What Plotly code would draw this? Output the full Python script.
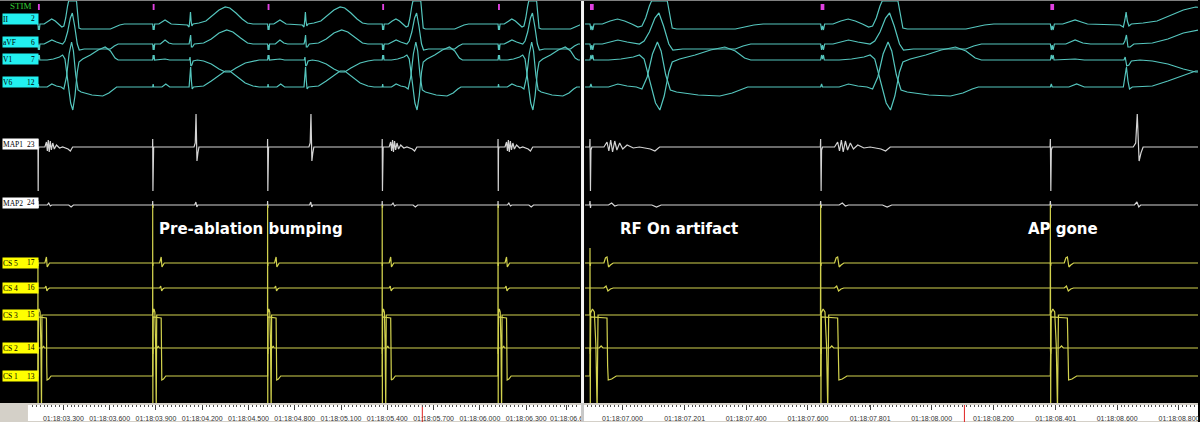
import plotly.graph_objects as go

# ---------------- data ----------------
# stimulus times, ms after 01:18:00.000
stim_left = [3135, 3879, 4624, 5367, 6118]
stim_right = [6895, 7641, 8384]
beat_left = ["wide", "narrow", "narrow", "wide", "wide"]
beat_right = ["wide", "wide", "narrow"]
cs_artifact_left = [55, 110, 110, 110, 110]
cs_artifact_right = [67, 110, 110]

channel_names = ["II", "aVF", "V1", "V6", "MAP1", "MAP2", "CS 5", "CS 4", "CS 3", "CS 2", "CS 1"]
channel_numbers = ["2", "6", "7", "12", "23", "24", "17", "16", "15", "14", "13"]

# waveform templates: (ms after stimulus, deflection)
II_stim = [(0, 0), (3, -6), (6, -2), (9, -6), (13, 0)]
II_wide = [(40, 0), (65, 3), (89, 5), (112, 3), (135, 0), (155, -3), (168, -2), (180, 6), (192, 18), (199, 23),
           (250, 23), (257, 12), (266, -4), (280, -5), (470, -5), (500, -3), (530, -1), (560, 0)]
II_narrow = [(40, 0), (60, 2), (80, 4), (100, 2), (120, 0), (225, -1), (236, -3), (241, 4), (245, 12), (249, 3),
             (254, -2), (262, 0), (300, 1), (345, 3), (390, 9), (430, 14), (470, 17), (500, 16), (540, 11),
             (580, 5), (615, 1), (650, 0)]

aVF_stim = [(0, 0), (3, -6), (6, -1), (9, -6), (13, 0)]
aVF_wide = [(40, 0), (65, 2), (90, 4), (120, 2), (160, 0), (175, 3), (192, 12), (210, 26), (223, 31), (238, 18),
            (255, 0), (268, -6), (300, -5), (470, -5), (495, -2), (520, 0)]
aVF_narrow = [(50, 0), (80, 4), (105, 1), (130, 0), (236, 0), (241, 3), (246, 9), (251, -3), (258, -3), (270, 0),
              (330, 1), (380, 5), (430, 11), (480, 14), (520, 12), (570, 6), (615, 1), (650, 0)]

V1_stim = [(0, 0), (3, 5), (6, 1), (9, 5), (12, 0)]
V1_wide = [(60, 0), (100, 1), (140, 3), (160, 5), (175, 1), (195, -22), (212, -43), (226, -50), (240, -36),
           (255, -12), (266, -2), (290, 1), (340, 5), (390, 10), (436, 13), (470, 9), (500, 2), (520, 0)]
V1_narrow = [(80, 1), (110, 0), (238, 0), (242, 3), (247, -6), (254, -5), (262, -1), (290, 0), (330, -1),
             (380, -4), (430, -9), (470, -12), (500, -12), (540, -8), (600, -3), (650, -1), (690, 0)]

V6_stim = [(0, 0), (3, 3), (6, 0)]
V6_wide = [(60, 0), (90, 3), (120, 1), (150, 0), (168, -2), (185, 10), (202, 33), (218, 45), (230, 36), (245, 12),
           (260, -3), (280, -5), (350, -8), (420, -9), (460, -6), (490, -2), (510, 0)]
V6_narrow = [(60, 0), (85, 3), (110, 0), (236, 0), (241, 8), (246, 20), (251, 6), (256, -2), (265, 0), (330, 1),
             (380, 6), (430, 12), (470, 16), (500, 16), (540, 11), (600, 4), (650, 1), (690, 0)]

MAP1_stim = [(-1, 0), (0, 8), (1.5, -44), (3, -3), (6, 0)]
MAP1_wide = [(45, 0), (55, 5), (61, -4), (67, 7), (73, -5), (80, 6), (87, -3), (96, 4), (106, -2), (120, 2),
             (140, -1), (160, 0), (195, -2), (210, -4), (225, 0)]
MAP1_narrow = [(268, 0), (276, 4), (281, 33), (287, -14), (293, -6), (300, 0)]

MAP2_stim = [(-1, 0), (0, 4), (1.5, -3), (3, 0)]
MAP2_wide = [(60, 0), (70, 2), (80, -1), (90, 0), (200, 0), (215, -2), (230, 0)]
MAP2_narrow = [(272, 0), (280, 3), (286, -2), (292, 0)]

CS5_beat = [(0, 0), (1, -3), (2, 0), (45, 0), (50, 5), (55, 6), (60, -4), (66, -2), (75, 0)]
CS4_beat = [(0, 0), (45, 0), (52, 2), (58, -3), (66, -1), (75, 0)]
CS3_after = [(1, -95), (2, 2), (8, 6), (14, 3), (19, -30), (23, -95), (26, 0)]
CS2_beat = [(0, 0), (1, -6), (2, 0), (30, 0), (36, 2), (42, 0)]
CS1_beat = [(0, 0), (2, 59), (55, 58), (57, 10), (59, -4), (70, -3), (85, 0)]

# ruler tick labels and cursor positions (ms after 01:18:00.000)
left_tick_ms = [3300, 3600, 3900, 4200, 4500, 4800, 5100, 5400, 5700, 6000, 6300, 6562]
left_tick_text = ["01:18:03.300", "01:18:03.600", "01:18:03.900", "01:18:04.200", "01:18:04.500",
                  "01:18:04.800", "01:18:05.100", "01:18:05.400", "01:18:05.700", "01:18:06.000",
                  "01:18:06.300", "01:18:06.6"]
right_tick_ms = [7000, 7201, 7400, 7600, 7801, 8000, 8200, 8401, 8600, 8800]
right_tick_text = ["01:18:07.000", "01:18:07.201", "01:18:07.400", "01:18:07.600", "01:18:07.801",
                   "01:18:08.000", "01:18:08.200", "01:18:08.401", "01:18:08.600", "01:18:08.800"]
cursor_left = [5627]
cursor_right = [8106]

notes = ["Pre-ablation bumping", "RF On artifact", "AP gone"]

# ---------------- layout constants ----------------
W, H = 1200, 422
PLOT_H = 403
LANE_Y = [24, 44, 60, 87, 147, 205, 263, 288, 315, 348, 376]
LABEL_Y = [19, 42.5, 59, 82.5, 144, 202.5, 262.5, 287.5, 314.5, 347.5, 376]
LABEL_BG = ["#22f0f0"] * 4 + ["#ffffff"] * 2 + ["#ffff00"] * 5


def left_ms(px):
    return 3300 + (px - 63.5) / 0.1545


def right_ms(px):
    return 7000 + (px - 623.5) / 0.3097


ECG_COL = "#55c6be"
MAP_COL = "#d4d4d4"
CS_COL = "#d2d24e"

templates = {
    "II": ({"wide": II_stim + II_wide, "narrow": II_stim + II_narrow}, ECG_COL),
    "aVF": ({"wide": aVF_stim + aVF_wide, "narrow": aVF_stim + aVF_narrow}, ECG_COL),
    "V1": ({"wide": V1_stim + V1_wide, "narrow": V1_stim + V1_narrow}, ECG_COL),
    "V6": ({"wide": V6_stim + V6_wide, "narrow": V6_stim + V6_narrow}, ECG_COL),
    "MAP1": ({"wide": MAP1_stim + MAP1_wide, "narrow": MAP1_stim + MAP1_narrow}, MAP_COL),
    "MAP2": ({"wide": MAP2_stim + MAP2_wide, "narrow": MAP2_stim + MAP2_narrow}, MAP_COL),
    "CS 5": ({"wide": CS5_beat, "narrow": CS5_beat}, CS_COL),
    "CS 4": ({"wide": CS4_beat, "narrow": CS4_beat}, CS_COL),
    "CS 3": (None, CS_COL),
    "CS 2": ({"wide": CS2_beat, "narrow": CS2_beat}, CS_COL),
    "CS 1": ({"wide": CS1_beat, "narrow": CS1_beat}, CS_COL),
}


def build(name, lane, stims, types, arts, t0, t1):
    tmpl, _ = templates[name]
    xs, ys = [t0], [-lane]
    for t, typ, a in zip(stims, types, arts):
        if tmpl is None:
            pts = [(-0.5, 0), (0, a)] + CS3_after
        else:
            pts = tmpl[typ]
        for dt, v in pts:
            xs.append(t + dt)
            ys.append(-lane + v)
    xs.append(t1)
    ys.append(-lane)
    return xs, ys


fig = go.Figure()

panels = [
    ("x", "y", stim_left, beat_left, cs_artifact_left, left_ms(37), left_ms(581)),
    ("x2", "y2", stim_right, beat_right, cs_artifact_right, right_ms(586), right_ms(1200)),
]
for xa, ya, stims, types, arts, t0, t1 in panels:
    for name, lane in zip(channel_names, LANE_Y):
        xs, ys = build(name, lane, stims, types, arts, t0, t1)
        fig.add_trace(go.Scatter(x=xs, y=ys, mode="lines", xaxis=xa, yaxis=ya,
                                 line=dict(color=templates[name][1], width=1.2),
                                 hoverinfo="skip", showlegend=False))
    # stimulus channel marks
    sx, sy = [], []
    for t in stims:
        sx += [t, t + 12, t + 12, t, t, None]
        sy += [-4, -4, -10, -10, -4, None]
    fig.add_trace(go.Scatter(x=sx, y=sy, mode="lines", fill="toself", fillcolor="#e040e0",
                             line=dict(width=0, color="#e040e0"), xaxis=xa, yaxis=ya,
                             hoverinfo="skip", showlegend=False))

# cursor markers on the time rulers
fig.add_trace(go.Scatter(x=cursor_left * 2, y=[0, 1], mode="lines", xaxis="x3", yaxis="y3",
                         line=dict(color="#e02020", width=1), hoverinfo="skip", showlegend=False))
fig.add_trace(go.Scatter(x=cursor_right * 2, y=[0, 1], mode="lines", xaxis="x4", yaxis="y4",
                         line=dict(color="#e02020", width=1), hoverinfo="skip", showlegend=False))

ydom = [(H - PLOT_H) / H, 1]
hidden = dict(showgrid=False, zeroline=False, showticklabels=False, ticks="", showline=False)
ruler_dom = [0, 17 / H]


def ruler_axis(dom, rng, vals, text, minor_step):
    return dict(domain=dom, range=rng, side="top", ticks="inside", ticklen=5, tickwidth=1, tickcolor="#444",
                tickvals=vals, ticktext=text, ticklabelposition="inside", ticklabeloverflow="allow",
                ticklabelstandoff=5, showgrid=False, zeroline=False, showline=False,
                tickfont=dict(family="Liberation Sans", size=7, color="#333"),
                minor=dict(ticks="inside", ticklen=2, tickcolor="#555", dtick=minor_step, tick0=0, showgrid=False))


fig.update_layout(
    width=W, height=H, margin=dict(l=0, r=0, t=0, b=0),
    paper_bgcolor="#000000", plot_bgcolor="rgba(0,0,0,0)",
    xaxis=dict(domain=[37 / W, 581 / W], range=[left_ms(37), left_ms(581)], anchor="y", **hidden),
    yaxis=dict(domain=ydom, range=[-PLOT_H, 0], anchor="x", **hidden),
    xaxis2=dict(domain=[586 / W, 1], range=[right_ms(586), right_ms(1200)], anchor="y2", **hidden),
    yaxis2=dict(domain=ydom, range=[-PLOT_H, 0], anchor="x2", **hidden),
    xaxis3=dict(anchor="y3", **ruler_axis([28 / W, 582 / W], [left_ms(28), left_ms(582)], left_tick_ms, left_tick_text, 25)),
    yaxis3=dict(domain=ruler_dom, range=[0, 1], anchor="x3", **hidden),
    xaxis4=dict(anchor="y4", **ruler_axis([585 / W, 1], [right_ms(585), right_ms(1200)], right_tick_ms, right_tick_text, 12.5)),
    yaxis4=dict(domain=ruler_dom, range=[0, 1], anchor="x4", **hidden),
)

shapes = [
    dict(type="rect", xref="paper", yref="paper", x0=0, x1=1, y0=0, y1=19 / H, fillcolor="#d4d0c8", line_width=0, layer="below"),
    dict(type="rect", xref="paper", yref="paper", x0=28 / W, x1=1, y0=1 / H, y1=17 / H, fillcolor="#ffffff", line_width=0, layer="below"),
    dict(type="rect", xref="paper", yref="paper", x0=582 / W, x1=585 / W, y0=19 / H, y1=1, fillcolor="#f4f4f4", line_width=0, layer="above"),
    dict(type="rect", xref="paper", yref="paper", x0=582 / W, x1=585 / W, y0=0, y1=19 / H, fillcolor="#c8c8c8", line_width=0, layer="above"),
    dict(type="line", xref="paper", yref="paper", x0=0, x1=1, y0=1 - 0.5 / H, y1=1 - 0.5 / H, line=dict(color="#808080", width=1)),
]
fig.update_layout(shapes=shapes)

ann = []
ann.append(dict(text="STIM", x=8 / W, y=1 - 6 / H, xref="paper", yref="paper", xanchor="left", yanchor="middle",
                showarrow=False, font=dict(family="Liberation Serif", size=9, color="#33cc33")))
for name, num, yc, bg in zip(channel_names, channel_numbers, LABEL_Y, LABEL_BG):
    ann.append(dict(text=name, x=2 / W, y=1 - yc / H, xref="paper", yref="paper", xanchor="left", yanchor="middle",
                    showarrow=False, bgcolor=bg, width=35, height=10, align="left", borderpad=0,
                    font=dict(family="Liberation Serif", size=7.5, color="#000")))
    ann.append(dict(text=num, x=37 / W, y=1 - yc / H, xref="paper", yref="paper", xanchor="right", yanchor="middle",
                    showarrow=False, font=dict(family="Liberation Serif", size=7.5, color="#000")))
for txt, cx in zip(notes, [251, 680, 1065]):
    ann.append(dict(text="<b>" + txt + "</b>", x=cx / W, y=1 - 229 / H, xref="paper", yref="paper",
                    xanchor="center", yanchor="middle", showarrow=False,
                    font=dict(family="DejaVu Sans", size=15, color="#ffffff")))
fig.update_layout(annotations=ann)

fig.write_html("out.html", config={"displayModeBar": False},
               post_script="document.body.style.margin='0';document.body.style.padding='0';"
                           "document.body.style.overflow='hidden';")
